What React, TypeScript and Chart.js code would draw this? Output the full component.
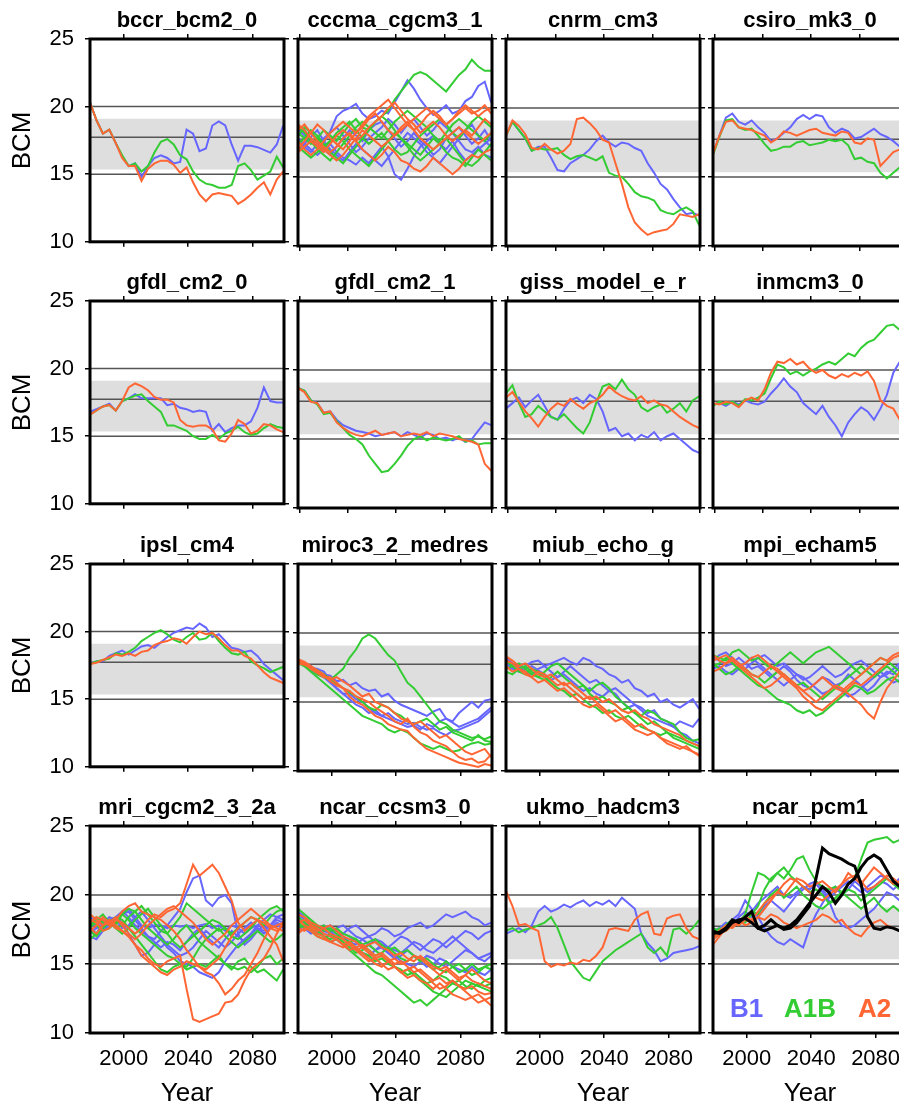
import React, { useEffect, useRef } from "react";
import { Chart, registerables } from "chart.js";

Chart.register(...registerables);

// ---------- shared axis / reference data ----------
const YEARS = [1979, 1983, 1987, 1991, 1995, 1999, 2003, 2007, 2011, 2015, 2019, 2023, 2027, 2031, 2035, 2039, 2043, 2047, 2051, 2055, 2059, 2063, 2067, 2071, 2075, 2079, 2083, 2087, 2091, 2095, 2099];
const X_MIN = 1979;
const X_MAX = 2099.5;
const Y_MIN = 10;
const Y_MAX = 25;
const Y_TICKS = [10, 15, 20, 25];
const X_TICKS_LABELED = [2000, 2040, 2080];
const X_TICKS_INNER = [1980, 2010, 2040, 2070, 2099.5];
const REF_LOW = 15.35;
const REF_HIGH = 19.1;
const REF_LINES = [15, 17.73, 20];
const LEGEND_LABELS = ["B1", "A1B", "A2"];

// ---------- series values (BCM) ----------
const BCCR_B1 = [20.3, 19.0, 18.0, 18.3, 17.3, 16.3, 15.6, 15.8, 14.8, 15.6, 16.2, 16.4, 16.2, 15.8, 15.9, 18.3, 18.0, 16.7, 16.9, 18.6, 18.9, 18.6, 17.2, 16.0, 17.1, 17.1, 17.0, 16.8, 16.6, 17.2, 18.6];
const BCCR_A1B = [20.3, 19.0, 18.0, 18.3, 17.3, 16.4, 15.6, 15.8, 15.2, 15.6, 16.6, 17.4, 17.6, 17.2, 16.4, 16.1, 15.2, 14.6, 14.3, 14.2, 14.0, 14.0, 14.2, 15.6, 15.8, 15.3, 14.6, 14.9, 15.2, 16.3, 15.5];
const BCCR_A2 = [20.3, 19.0, 18.0, 18.3, 17.3, 16.2, 15.6, 15.6, 14.5, 15.4, 15.8, 16.0, 16.0, 15.7, 15.1, 15.5, 14.4, 13.5, 13.0, 13.5, 13.6, 13.5, 13.4, 12.8, 13.1, 13.5, 14.0, 14.4, 13.5, 14.6, 15.2];

const CCCMA_B1 = [
  [18.5, 18.0, 17.6, 17.2, 17.5, 18.3, 19.4, 19.8, 20.0, 20.3, 19.6, 19.2, 19.4, 19.8, 19.6, 20.4, 21.2, 22.0, 21.4, 20.6, 20.0, 19.5, 19.8, 20.2, 19.6, 19.8, 20.5, 20.8, 21.6, 21.9, 20.4],
  [17.8, 17.4, 17.0, 16.6, 17.0, 17.4, 16.8, 16.4, 16.2, 15.9, 16.4, 16.0, 16.6, 17.2, 16.5, 15.2, 14.8, 15.6, 16.5, 17.2, 17.6, 18.0, 17.4, 17.0, 17.6, 16.8, 16.2, 16.6, 17.0, 17.4, 17.8],
  [18.0, 18.4, 17.8, 17.4, 17.0, 16.6, 17.2, 17.8, 18.4, 18.0, 17.6, 18.4, 18.8, 19.0, 18.4, 17.8, 17.2, 17.6, 18.2, 17.6, 17.2, 16.6, 17.0, 17.8, 18.2, 18.6, 18.0, 17.4, 17.8, 18.4, 17.6],
  [17.6, 17.2, 16.8, 17.4, 17.8, 18.2, 18.6, 18.0, 17.4, 16.8, 17.2, 17.8, 18.2, 18.6, 19.2, 18.8, 18.2, 18.8, 19.2, 18.6, 18.0, 18.4, 19.0, 18.6, 18.2, 17.6, 17.0, 16.8, 17.2, 16.6, 16.4],
  [17.0, 17.4, 17.9, 18.4, 17.6, 17.0, 16.6, 16.2, 16.8, 17.4, 17.0, 16.6, 16.2, 15.8, 16.4, 17.0, 17.6, 18.2, 17.8, 17.4, 16.8, 16.4, 16.0, 16.6, 17.2, 17.8, 18.4, 18.8, 18.0, 17.6, 17.2],
];
const CCCMA_A1B = [
  [18.2, 17.8, 17.4, 17.8, 18.4, 18.0, 17.6, 18.2, 18.8, 19.2, 18.6, 18.4, 19.0, 19.4, 19.8, 20.6, 21.2, 21.8, 22.4, 22.6, 22.4, 22.0, 21.6, 21.2, 21.8, 22.4, 22.8, 23.5, 23.0, 22.7, 22.7],
  [17.4, 17.8, 18.4, 18.0, 17.4, 16.8, 16.4, 16.0, 16.6, 17.2, 17.8, 18.4, 19.0, 19.4, 19.0, 18.4, 17.8, 17.4, 17.0, 16.6, 17.2, 17.8, 17.4, 16.8, 16.4, 16.2, 15.8, 16.4, 17.0, 16.6, 16.2],
  [18.6, 18.2, 17.6, 17.0, 16.6, 16.2, 16.8, 17.4, 18.0, 18.6, 19.0, 18.6, 18.2, 17.8, 18.4, 19.0, 19.4, 19.8, 19.4, 19.0, 18.6, 18.0, 17.6, 18.2, 18.8, 19.2, 18.8, 18.4, 18.0, 17.6, 18.2],
  [17.2, 16.8, 16.4, 16.8, 17.2, 17.6, 18.0, 17.6, 17.0, 16.6, 16.2, 15.8, 16.4, 17.0, 17.6, 18.2, 17.8, 17.2, 16.6, 16.2, 16.6, 17.0, 17.4, 17.8, 17.2, 16.6, 16.0, 15.8, 16.2, 16.8, 17.4],
  [18.0, 18.6, 18.2, 17.8, 17.2, 17.6, 18.2, 18.6, 19.0, 18.4, 17.8, 17.4, 17.8, 18.2, 17.6, 17.0, 16.6, 16.8, 17.4, 18.0, 18.4, 18.8, 19.2, 18.8, 18.2, 17.8, 18.4, 19.0, 19.4, 19.0, 18.6],
];
const CCCMA_A2 = [
  [17.0, 17.6, 18.2, 18.8, 18.4, 17.8, 17.4, 17.0, 17.6, 18.2, 18.8, 19.4, 19.8, 20.2, 20.6, 20.0, 19.4, 18.8, 18.4, 18.8, 19.4, 19.8, 19.4, 18.8, 19.2, 19.6, 20.0, 19.6, 19.8, 20.2, 19.6],
  [18.4, 18.8, 18.2, 17.6, 17.2, 16.8, 17.2, 17.8, 18.2, 17.6, 17.0, 16.6, 16.2, 16.6, 17.2, 16.8, 16.2, 16.0, 15.6, 15.4, 15.8, 16.4, 16.0, 15.6, 15.2, 15.6, 16.2, 16.6, 16.4, 16.8, 17.0],
  [17.6, 17.0, 16.6, 17.0, 17.6, 18.2, 18.6, 19.0, 18.6, 18.2, 18.6, 19.2, 19.6, 19.0, 18.4, 18.0, 18.4, 18.8, 19.2, 19.6, 20.0, 19.6, 19.2, 18.8, 19.2, 19.8, 20.2, 19.8, 19.4, 19.8, 20.0],
  [18.8, 18.4, 17.8, 17.4, 17.0, 16.6, 16.2, 16.6, 17.2, 17.8, 18.4, 18.0, 17.6, 17.2, 17.6, 18.0, 18.6, 19.0, 18.4, 17.8, 17.4, 17.0, 17.4, 17.8, 18.2, 18.6, 18.2, 17.8, 17.4, 17.8, 18.2],
  [16.8, 17.2, 17.6, 17.2, 16.8, 17.4, 18.0, 18.4, 18.0, 17.6, 18.0, 18.6, 19.0, 19.4, 20.0, 20.4, 19.8, 19.2, 18.8, 18.2, 18.6, 19.0, 18.6, 18.0, 17.6, 18.0, 18.4, 18.0, 18.6, 19.2, 18.8],
];

const CNRM_B1 = [18.0, 19.0, 18.4, 17.8, 16.9, 17.2, 17.2, 16.4, 15.5, 15.4, 16.0, 16.3, 16.6, 17.0, 17.6, 18.0, 17.5, 17.2, 17.5, 17.4, 17.1, 16.9, 16.0, 15.3, 14.5, 14.1, 13.4, 12.8, 12.3, 12.4, 12.2];
const CNRM_A1B = [18.0, 19.0, 18.4, 17.8, 16.9, 17.1, 17.0, 17.0, 17.1, 16.6, 16.3, 16.5, 16.6, 16.4, 16.2, 16.5, 15.3, 15.1, 15.0, 14.5, 13.9, 13.6, 13.5, 13.3, 12.6, 12.4, 12.3, 12.6, 12.8, 12.5, 11.5];
const CNRM_A2 = [18.0, 19.1, 18.7, 18.1, 17.1, 17.0, 17.4, 17.0, 16.7, 16.9, 17.4, 19.2, 19.3, 18.9, 18.4, 17.7, 17.5, 16.0, 14.5, 12.8, 11.7, 11.2, 10.8, 11.0, 11.1, 11.2, 11.6, 12.3, 12.2, 12.1, 12.3];

const CSIRO_B1 = [16.7, 18.0, 19.3, 19.6, 19.0, 18.8, 19.1, 18.6, 18.2, 17.6, 17.8, 18.2, 18.6, 19.2, 19.5, 19.2, 19.5, 19.4, 18.6, 18.2, 18.5, 18.3, 17.8, 17.9, 18.2, 18.5, 18.1, 17.9, 17.6, 17.2, 17.4];
const CSIRO_A1B = [16.6, 17.9, 19.1, 19.2, 18.6, 18.4, 18.5, 18.0, 17.4, 16.9, 17.0, 17.2, 17.2, 17.5, 17.6, 17.3, 17.4, 17.5, 17.7, 17.6, 17.7, 17.3, 16.3, 16.4, 16.1, 16.0, 15.3, 14.9, 15.3, 15.7, 15.6];
const CSIRO_A2 = [16.7, 18.0, 19.0, 19.1, 18.6, 18.5, 18.4, 18.2, 18.0, 17.5, 17.8, 18.3, 18.2, 18.0, 18.2, 18.4, 18.5, 18.2, 18.1, 18.0, 18.3, 18.2, 17.5, 17.4, 17.8, 17.7, 15.8, 16.3, 16.8, 17.0, 17.0];

const GFDL0_B1 = [16.8, 17.0, 17.2, 17.4, 16.9, 17.6, 17.8, 18.1, 17.8, 17.8, 17.8, 17.8, 17.3, 17.4, 17.1, 17.0, 16.8, 16.9, 16.8, 15.4, 15.9, 15.3, 15.6, 15.8, 15.8, 16.1, 17.1, 18.6, 17.6, 17.5, 17.5];
const GFDL0_A1B = [16.6, 16.9, 17.2, 17.3, 16.9, 17.6, 17.8, 18.0, 18.1, 17.6, 17.2, 16.8, 15.8, 15.8, 15.6, 15.4, 15.0, 14.8, 14.8, 15.1, 14.8, 15.2, 15.4, 15.7, 15.3, 15.1, 15.2, 15.6, 15.9, 15.7, 15.6];
const GFDL0_A2 = [16.6, 16.9, 17.2, 17.3, 16.9, 17.6, 18.6, 18.9, 18.7, 18.4, 17.9, 17.7, 17.7, 17.5, 16.2, 15.8, 15.7, 15.8, 15.8, 15.5, 14.7, 14.6, 15.2, 16.2, 15.9, 15.2, 15.4, 15.9, 15.8, 15.5, 15.3];

const GFDL1_B1 = [18.7, 18.5, 17.8, 17.6, 16.9, 17.0, 16.4, 16.0, 15.8, 15.6, 15.5, 15.4, 15.2, 15.3, 15.4, 15.5, 15.2, 15.5, 15.3, 15.1, 15.4, 15.3, 15.0, 15.1, 14.9, 15.1, 14.8, 15.0, 15.6, 16.2, 16.0];
const GFDL1_A1B = [18.7, 18.5, 17.8, 17.5, 16.8, 16.9, 16.3, 15.8, 15.3, 15.0, 14.6, 13.8, 13.2, 12.6, 12.7, 13.2, 13.8, 14.5, 15.0, 15.2, 14.9, 15.1, 15.0, 14.9, 15.0, 15.2, 14.8, 14.9, 14.6, 14.7, 14.7];
const GFDL1_A2 = [18.7, 18.4, 17.7, 17.6, 16.9, 17.0, 16.2, 15.8, 15.5, 15.3, 15.2, 15.4, 15.6, 15.3, 15.4, 15.5, 15.2, 15.3, 15.4, 15.3, 15.5, 15.2, 15.4, 15.3, 15.2, 15.0, 14.9, 14.8, 14.6, 13.2, 12.7];

const GISS_B1 = [17.2, 17.6, 18.0, 17.3, 17.8, 18.2, 17.4, 16.6, 16.4, 17.2, 17.8, 18.0, 17.6, 18.2, 17.9, 17.0, 15.6, 15.8, 15.2, 15.4, 14.9, 15.3, 15.1, 15.5, 14.9, 15.2, 15.4, 15.0, 14.6, 14.2, 14.0];
const GISS_A1B = [18.3, 18.9, 17.6, 16.6, 16.8, 17.4, 17.0, 16.6, 16.4, 16.8, 16.3, 15.8, 15.4, 16.2, 17.6, 18.8, 19.0, 18.6, 19.3, 18.6, 18.2, 17.3, 17.0, 17.3, 17.5, 16.9, 17.2, 17.6, 17.0, 17.8, 18.1];
const GISS_A2 = [18.0, 18.4, 17.7, 17.0, 16.5, 15.9, 16.6, 17.2, 17.6, 17.4, 17.9, 17.5, 17.2, 17.6, 17.8, 18.2, 18.8, 18.4, 18.1, 17.9, 17.8, 18.1, 17.6, 17.8, 17.5, 17.4, 17.0, 16.6, 16.3, 16.0, 15.8];

const INM_B1 = [17.5, 17.6, 17.4, 17.7, 17.5, 17.8, 17.6, 17.5, 17.7, 18.3, 18.8, 19.4, 18.8, 18.4, 17.6, 17.2, 16.8, 17.4, 16.6, 16.0, 15.2, 16.2, 16.8, 17.3, 17.0, 16.4, 17.2, 18.2, 19.8, 20.6, 20.8];
const INM_A1B = [17.4, 17.7, 17.5, 17.7, 17.4, 17.9, 17.8, 18.0, 18.3, 19.4, 20.4, 20.2, 19.7, 19.9, 19.6, 19.9, 20.1, 20.4, 20.6, 20.4, 20.8, 21.2, 21.0, 21.6, 22.0, 22.2, 22.7, 23.2, 23.3, 22.9, 22.6];
const INM_A2 = [17.6, 17.5, 17.7, 17.6, 17.3, 17.8, 18.0, 17.8, 18.6, 19.8, 20.6, 20.5, 20.8, 20.4, 20.6, 20.1, 19.8, 20.0, 19.6, 19.4, 19.7, 19.5, 19.8, 19.6, 19.9, 19.2, 17.8, 17.4, 17.2, 16.4, 16.2];

const IPSL_B1 = [17.6, 17.8, 17.8, 18.2, 18.4, 18.6, 18.3, 18.6, 18.9, 19.0, 18.8, 19.2, 19.6, 19.9, 20.1, 20.3, 20.2, 20.6, 20.3, 19.6, 19.8, 19.3, 18.8, 18.7, 18.5, 18.6, 18.2, 17.6, 17.2, 16.8, 16.4];
const IPSL_A1B = [17.6, 17.8, 17.9, 18.0, 18.4, 18.3, 18.5, 18.8, 19.3, 19.6, 19.9, 20.1, 19.8, 19.4, 19.2, 19.6, 19.9, 19.4, 19.5, 19.9, 19.3, 18.8, 18.4, 18.3, 18.5, 17.8, 17.5, 17.3, 17.0, 17.2, 17.4];
const IPSL_A2 = [17.6, 17.7, 17.9, 18.1, 18.3, 18.2, 18.4, 18.2, 18.5, 18.6, 19.0, 19.2, 19.3, 19.5, 19.4, 19.1, 19.6, 20.0, 19.8, 19.9, 19.5, 19.0, 18.6, 18.6, 18.2, 18.0, 17.5, 17.0, 16.6, 16.4, 16.2];

const MIROC_B1 = [
  [18.0, 17.8, 17.6, 17.2, 17.0, 16.9, 16.5, 16.6, 16.2, 16.4, 16.0, 15.8, 15.9, 15.4, 15.6, 15.1, 14.8, 14.6, 14.4, 14.2, 14.0, 14.3, 14.5, 13.8, 13.6, 14.2, 14.6, 15.0, 14.6, 15.1, 15.2],
  [17.9, 17.6, 17.5, 17.4, 17.2, 16.6, 16.0, 15.6, 15.2, 14.8, 14.6, 14.2, 14.4, 14.0, 13.8, 13.6, 13.4, 13.2, 13.3, 13.0, 13.4, 13.2, 13.6, 13.8, 13.5, 13.2, 13.4, 13.6, 13.8, 14.2, 14.6],
  [18.1, 17.7, 17.3, 17.0, 16.8, 16.4, 16.0, 15.6, 15.6, 15.2, 15.0, 14.6, 14.2, 14.0, 14.2, 13.8, 13.6, 13.4, 13.5, 13.2, 13.0, 13.1, 12.8, 12.6, 12.9, 13.0, 13.2, 13.4, 13.6, 14.0, 14.4],
];
const MIROC_A1B = [
  [17.8, 17.6, 17.4, 17.0, 16.8, 16.6, 17.0, 17.4, 18.2, 18.8, 19.6, 19.9, 19.6, 19.0, 18.4, 18.0, 17.2, 16.4, 16.0, 15.4, 14.8, 14.2, 13.6, 13.4, 13.0, 12.8, 12.6, 12.4, 12.5, 12.3, 12.5],
  [18.0, 17.6, 17.2, 16.8, 16.4, 16.0, 15.6, 15.2, 14.8, 14.4, 14.0, 13.8, 13.6, 13.4, 13.0, 12.8, 13.0, 12.8, 12.4, 12.0, 11.8, 11.6, 11.8, 11.6, 11.4, 11.5, 11.8, 12.0, 12.1, 11.9, 12.0],
  [17.9, 17.7, 17.5, 17.3, 17.0, 16.7, 16.3, 16.0, 15.7, 15.4, 15.0, 14.6, 14.4, 14.8, 14.6, 14.2, 14.0, 13.6, 13.4, 13.6, 13.8, 13.4, 13.0, 13.2, 12.8, 12.6, 12.4, 12.2, 12.6, 12.2, 12.1],
];
const MIROC_A2 = [
  [18.1, 17.9, 17.6, 17.3, 17.0, 16.5, 16.2, 16.0, 15.8, 15.4, 15.2, 15.0, 14.6, 14.3, 14.0, 13.6, 13.4, 13.8, 13.2, 12.8, 12.6, 12.2, 12.0, 11.8, 11.4, 11.0, 10.8, 10.9, 10.6, 10.7, 11.2],
  [18.0, 17.8, 17.4, 17.1, 16.8, 16.8, 16.4, 16.0, 15.4, 15.0, 14.8, 14.4, 14.0, 13.8, 13.4, 13.2, 13.0, 12.9, 12.4, 12.0, 11.6, 11.4, 11.2, 11.0, 10.8, 10.6, 10.5, 10.4, 10.3, 10.5, 10.4],
  [17.8, 17.7, 17.5, 17.2, 16.9, 16.6, 16.8, 16.5, 16.2, 15.8, 15.4, 15.6, 15.0, 14.8, 14.6, 14.2, 13.8, 13.6, 13.4, 13.6, 13.2, 12.8, 12.4, 12.6, 12.2, 11.8, 11.4, 11.2, 11.4, 11.6, 11.0],
];

const MIUB_B1 = [
  [18.2, 17.8, 17.4, 17.6, 17.9, 18.0, 17.6, 17.8, 18.0, 18.2, 17.9, 17.7, 18.2, 18.0, 17.6, 17.4, 17.0, 16.8, 16.4, 16.6, 16.0, 15.8, 15.4, 15.6, 15.0, 15.2, 14.8, 14.6, 14.9, 15.2, 14.5],
  [17.6, 17.4, 17.2, 17.4, 17.6, 17.3, 17.0, 16.6, 16.8, 17.2, 17.6, 17.2, 16.8, 16.4, 16.6, 16.2, 15.8, 15.6, 15.0, 14.6, 14.8, 14.4, 14.0, 13.8, 13.6, 13.4, 13.2, 13.6, 13.4, 13.2, 13.8],
  [17.8, 17.5, 17.6, 17.2, 17.0, 17.4, 17.6, 17.2, 16.8, 17.0, 16.6, 16.2, 15.8, 16.0, 15.6, 15.4, 15.8, 16.0, 15.6, 15.2, 14.8, 14.6, 14.2, 14.4, 13.8, 13.6, 13.2, 12.8, 12.6, 12.2, 12.0],
];
const MIUB_A1B = [
  [17.4, 17.6, 17.8, 17.4, 17.0, 16.8, 17.2, 17.6, 17.8, 17.4, 17.0, 16.6, 16.2, 15.8, 16.2, 16.4, 16.0, 15.4, 15.0, 14.6, 14.2, 13.8, 13.4, 13.6, 13.2, 12.8, 12.6, 12.4, 12.2, 12.0, 11.8],
  [18.0, 17.6, 17.2, 17.0, 17.4, 17.2, 16.8, 16.4, 16.0, 15.8, 15.4, 15.6, 15.2, 14.8, 14.6, 14.2, 14.4, 14.0, 13.8, 14.0, 13.6, 13.2, 13.0, 12.8, 12.6, 12.8, 12.4, 12.2, 12.0, 11.8, 11.6],
  [17.2, 17.0, 17.4, 17.6, 17.2, 16.8, 16.6, 16.8, 17.2, 16.8, 16.4, 16.0, 16.2, 15.6, 15.2, 15.4, 15.0, 14.8, 14.4, 14.6, 14.2, 14.0, 14.4, 14.2, 13.8, 13.6, 13.4, 12.8, 12.4, 12.2, 12.3],
];
const MIUB_A2 = [
  [18.0, 17.8, 17.4, 17.0, 16.8, 17.2, 17.0, 16.6, 16.2, 16.4, 16.0, 15.6, 15.2, 15.4, 15.0, 14.6, 14.2, 14.4, 14.0, 13.6, 13.2, 13.4, 13.0, 12.8, 12.4, 12.2, 12.0, 11.8, 11.6, 11.4, 11.1],
  [17.6, 17.2, 17.4, 17.2, 16.8, 16.4, 16.6, 16.2, 15.8, 16.0, 15.6, 15.2, 14.8, 14.6, 14.8, 14.4, 14.0, 13.6, 13.8, 13.4, 13.0, 12.8, 12.6, 12.8, 12.4, 12.0, 11.8, 11.6, 11.8, 11.4, 11.2],
  [18.3, 18.0, 17.6, 17.8, 17.4, 17.0, 16.8, 17.0, 16.6, 16.2, 16.4, 16.0, 15.6, 15.2, 15.4, 15.0, 15.2, 14.8, 14.4, 14.2, 14.4, 14.0, 13.8, 13.4, 13.2, 13.0, 12.8, 12.6, 12.2, 12.0, 11.8],
];

const MPI_B1 = [
  [18.2, 18.0, 17.6, 17.8, 18.2, 17.8, 17.4, 17.6, 17.2, 16.8, 17.2, 17.6, 17.2, 16.6, 16.2, 16.0, 16.4, 16.8, 16.6, 16.2, 16.4, 17.0, 16.6, 16.2, 15.8, 16.2, 16.8, 17.2, 17.0, 17.6, 17.2],
  [17.4, 17.6, 17.2, 17.0, 17.4, 17.8, 18.2, 17.8, 17.4, 17.0, 16.6, 16.2, 16.6, 17.0, 16.8, 16.4, 16.0, 15.6, 15.8, 16.2, 15.8, 15.4, 15.6, 16.0, 16.4, 16.8, 17.2, 16.8, 16.4, 16.6, 16.8],
  [18.0, 18.4, 18.6, 18.2, 17.8, 17.4, 17.8, 18.2, 18.4, 18.0, 17.6, 17.8, 17.4, 17.0, 16.6, 16.8, 17.2, 17.6, 17.2, 16.8, 17.0, 17.4, 17.8, 18.0, 17.6, 17.2, 16.8, 17.0, 17.4, 17.8, 18.0],
];
const MPI_A1B = [
  [17.6, 17.8, 18.2, 17.8, 17.4, 17.0, 16.6, 16.2, 16.0, 15.6, 15.2, 15.0, 14.8, 14.4, 14.2, 14.4, 14.0, 14.2, 14.6, 15.0, 15.4, 15.8, 16.2, 16.0, 15.6, 15.8, 16.2, 16.6, 16.8, 16.4, 16.6],
  [18.4, 18.2, 18.0, 18.6, 18.8, 18.4, 18.0, 18.2, 17.8, 17.4, 17.8, 18.2, 18.6, 18.2, 17.8, 18.2, 18.6, 18.8, 19.0, 18.6, 18.2, 17.8, 17.4, 17.0, 17.4, 17.8, 18.2, 18.0, 17.6, 17.2, 17.4],
  [17.8, 17.4, 17.0, 17.2, 17.6, 17.4, 17.0, 16.8, 16.4, 16.8, 17.2, 17.0, 16.6, 16.2, 16.4, 16.0, 15.6, 15.2, 15.6, 16.0, 16.4, 16.8, 17.2, 17.6, 17.2, 16.8, 17.2, 17.6, 17.2, 16.8, 16.4],
];
const MPI_A2 = [
  [18.4, 18.0, 17.8, 18.2, 17.8, 17.4, 17.0, 16.8, 17.2, 17.6, 17.4, 17.0, 16.6, 16.2, 15.8, 15.4, 15.0, 15.4, 15.8, 16.2, 16.0, 15.6, 15.2, 14.8, 14.2, 13.8, 15.0, 16.0, 16.6, 17.2, 17.6],
  [17.2, 17.4, 17.8, 18.0, 17.6, 17.2, 16.8, 16.4, 16.0, 16.2, 16.6, 17.0, 16.6, 16.2, 15.8, 16.0, 16.4, 16.8, 16.4, 16.0, 15.8, 16.2, 16.6, 17.0, 17.4, 17.8, 18.2, 18.0, 18.4, 18.6, 18.8],
  [18.0, 18.2, 18.4, 18.0, 17.6, 17.8, 18.2, 18.4, 18.0, 17.6, 17.2, 16.8, 16.4, 16.0, 15.4, 15.0, 14.6, 14.4, 14.8, 15.2, 15.6, 16.0, 16.4, 16.2, 16.6, 17.0, 17.4, 17.8, 18.2, 18.4, 18.8],
];

const MRI_B1 = [
  [17.6, 17.2, 18.0, 18.4, 18.2, 18.6, 18.8, 18.2, 17.6, 17.0, 16.8, 17.4, 17.8, 18.4, 19.0, 20.2, 21.2, 21.4, 19.6, 19.2, 19.8, 20.0, 19.4, 17.2, 16.4, 16.8, 17.4, 17.8, 17.6, 18.0, 17.8],
  [18.0, 17.6, 17.8, 18.2, 18.4, 18.8, 19.0, 18.4, 17.8, 17.6, 17.8, 17.8, 17.6, 17.8, 17.7, 17.8, 17.6, 17.8, 17.9, 17.6, 17.8, 17.4, 17.8, 17.6, 17.2, 17.6, 17.8, 17.6, 17.8, 18.2, 18.0],
  [17.2, 17.6, 18.2, 17.8, 18.4, 18.0, 17.2, 16.4, 15.6, 15.8, 16.4, 16.8, 16.2, 15.8, 15.2, 15.0, 14.8, 14.4, 14.2, 14.0, 14.4, 15.2, 15.8, 16.4, 16.8, 17.2, 17.6, 17.4, 17.8, 18.4, 18.2],
  [18.4, 18.0, 17.4, 17.8, 18.2, 18.8, 18.4, 17.8, 17.4, 17.0, 16.6, 16.2, 16.6, 16.4, 16.0, 16.6, 17.2, 17.6, 17.0, 16.6, 16.2, 16.8, 17.4, 17.0, 16.6, 17.2, 17.8, 18.2, 18.6, 18.4, 18.6],
  [17.0, 16.8, 17.4, 18.0, 18.2, 17.6, 17.8, 18.4, 18.8, 18.2, 17.6, 17.0, 16.4, 16.0, 15.6, 15.8, 16.2, 16.8, 17.4, 17.0, 16.6, 16.2, 16.6, 17.2, 17.6, 18.0, 17.6, 17.2, 17.6, 17.8, 17.6],
];
const MRI_A1B = [
  [17.8, 18.4, 18.0, 18.2, 17.8, 18.6, 19.0, 18.8, 19.2, 18.6, 18.0, 17.4, 17.2, 17.8, 18.4, 19.4, 19.0, 18.6, 18.2, 17.8, 17.4, 17.6, 17.0, 16.8, 17.2, 17.6, 18.2, 18.6, 19.0, 19.2, 18.8],
  [17.4, 17.0, 17.6, 18.0, 18.4, 18.2, 17.6, 17.0, 16.4, 15.8, 15.2, 14.6, 14.4, 14.8, 15.0, 14.6, 14.8, 15.0, 14.8, 15.2, 15.6, 15.0, 14.6, 15.2, 15.4, 14.8, 14.4, 14.6, 14.2, 13.8, 14.6],
  [18.2, 17.8, 17.4, 17.6, 18.0, 18.6, 18.2, 17.6, 17.2, 16.8, 16.4, 16.0, 15.6, 15.4, 15.0, 14.8, 15.4, 16.2, 16.8, 17.2, 17.6, 17.0, 16.6, 16.2, 16.6, 17.0, 17.4, 17.0, 16.6, 16.8, 17.2],
  [16.8, 17.2, 17.8, 18.2, 17.6, 17.8, 18.4, 18.8, 18.2, 17.6, 17.2, 16.8, 16.4, 16.8, 17.4, 17.8, 17.2, 16.6, 16.2, 15.8, 15.4, 15.0, 14.8, 14.6, 14.8, 14.4, 14.8, 15.4, 15.6, 15.0, 15.4],
  [17.6, 18.2, 18.6, 18.0, 17.6, 17.2, 17.6, 18.2, 18.6, 19.0, 18.4, 17.8, 17.2, 16.6, 16.2, 16.6, 17.0, 17.4, 17.8, 18.2, 18.0, 17.6, 17.2, 17.6, 18.0, 18.4, 18.2, 17.8, 18.4, 18.8, 19.0],
];
const MRI_A2 = [
  [18.0, 18.4, 18.2, 17.8, 18.2, 18.0, 17.6, 17.2, 17.6, 18.2, 18.6, 18.4, 18.8, 19.0, 19.4, 20.8, 22.2, 21.4, 21.8, 22.2, 21.6, 20.6, 19.6, 18.0, 17.4, 17.8, 18.2, 18.0, 17.6, 17.8, 18.0],
  [17.6, 17.2, 17.8, 18.2, 17.8, 17.4, 17.0, 16.4, 16.0, 15.4, 15.0, 14.8, 15.2, 15.4, 15.6, 13.2, 11.0, 10.8, 11.0, 11.2, 11.4, 12.2, 12.3, 12.8, 13.8, 14.6, 15.0, 15.4, 16.2, 17.2, 18.0],
  [18.2, 18.0, 17.4, 17.6, 18.2, 18.8, 19.2, 19.4, 18.8, 18.6, 18.4, 18.2, 17.8, 17.4, 16.8, 16.0, 15.4, 14.8, 14.4, 14.2, 13.6, 12.8, 13.2, 13.8, 14.2, 15.0, 15.8, 16.8, 17.6, 17.4, 17.8],
  [17.4, 17.8, 18.4, 18.0, 17.6, 17.4, 17.0, 16.4, 15.6, 15.2, 14.8, 14.4, 14.2, 14.6, 14.8, 15.2, 15.0, 14.8, 14.6, 15.0, 15.4, 16.2, 17.0, 17.6, 18.0, 18.4, 18.2, 17.6, 17.0, 16.4, 15.2],
  [18.6, 18.2, 17.8, 18.0, 18.4, 17.8, 17.2, 16.8, 17.2, 17.8, 18.2, 18.6, 19.0, 19.2, 18.8, 18.4, 18.0, 17.4, 16.8, 16.4, 16.8, 17.2, 17.8, 18.2, 18.6, 19.0, 18.6, 18.2, 17.8, 17.6, 17.4],
];

const CCSM_B1 = [
  [18.6, 18.2, 17.8, 17.6, 17.8, 17.4, 17.0, 17.2, 17.6, 17.8, 17.4, 17.0, 17.2, 17.6, 17.4, 17.0, 17.2, 17.6, 17.8, 18.0, 17.6, 17.8, 18.2, 18.6, 18.4, 18.6, 18.8, 18.4, 18.2, 17.8, 18.0],
  [17.8, 17.6, 17.2, 17.4, 17.0, 16.6, 16.8, 16.4, 16.0, 16.2, 15.8, 15.6, 16.0, 16.4, 16.2, 16.0, 15.8, 16.2, 16.6, 16.4, 16.0, 15.8, 16.2, 16.6, 17.0, 16.6, 16.2, 15.8, 15.4, 15.6, 15.8],
  [18.2, 18.0, 17.6, 17.2, 17.4, 17.8, 17.4, 17.0, 16.6, 16.4, 16.8, 17.0, 16.6, 16.2, 15.8, 15.6, 15.2, 15.0, 14.8, 15.2, 15.6, 15.4, 15.0, 14.8, 15.2, 15.6, 16.0, 15.8, 15.4, 15.2, 15.6],
  [17.4, 17.8, 18.0, 17.6, 17.2, 17.0, 16.8, 17.2, 17.0, 16.6, 16.2, 16.4, 16.8, 16.6, 16.2, 16.6, 17.0, 16.8, 16.4, 16.0, 16.4, 16.8, 16.6, 16.2, 16.6, 17.0, 17.4, 17.2, 16.8, 17.2, 17.4],
  [18.8, 18.4, 18.0, 17.8, 17.4, 17.2, 17.6, 17.8, 17.4, 17.0, 16.8, 16.4, 16.0, 16.2, 15.8, 15.4, 15.6, 16.0, 15.6, 15.2, 14.8, 15.0, 15.4, 15.2, 14.8, 14.6, 14.4, 14.8, 14.4, 14.2, 14.6],
];
const CCSM_A1B = [
  [18.4, 18.0, 17.6, 17.2, 17.0, 16.6, 16.8, 16.4, 16.0, 15.6, 15.2, 14.8, 14.4, 14.2, 13.8, 13.4, 13.0, 12.6, 12.2, 12.4, 12.0, 12.4, 12.8, 12.6, 13.0, 13.4, 13.2, 13.6, 13.4, 13.2, 13.0],
  [17.6, 17.8, 17.4, 17.0, 16.8, 17.2, 16.8, 16.4, 16.6, 16.2, 15.8, 15.6, 15.2, 15.4, 15.0, 14.8, 14.6, 14.2, 14.4, 14.0, 13.6, 13.8, 14.2, 14.0, 13.6, 13.4, 13.8, 13.6, 13.4, 13.8, 14.0],
  [19.0, 18.6, 18.2, 17.8, 17.4, 17.6, 17.2, 16.8, 16.6, 16.8, 16.4, 16.0, 15.6, 15.8, 16.2, 15.8, 15.4, 15.2, 15.6, 15.4, 15.0, 14.6, 14.8, 15.2, 14.8, 14.4, 14.6, 15.0, 14.6, 14.8, 15.0],
  [18.0, 17.6, 17.8, 17.4, 17.0, 16.8, 17.0, 16.6, 16.2, 15.8, 16.0, 16.4, 16.0, 15.6, 15.2, 14.8, 14.4, 14.6, 14.2, 13.8, 13.4, 13.0, 12.8, 13.2, 13.6, 13.8, 13.4, 13.2, 13.6, 13.4, 13.6],
  [17.8, 18.2, 18.0, 17.6, 17.8, 17.4, 17.6, 17.2, 17.0, 16.8, 16.4, 16.6, 16.8, 16.4, 16.0, 16.2, 15.8, 16.0, 15.6, 15.2, 15.4, 15.0, 14.6, 14.4, 14.8, 15.0, 14.6, 14.2, 14.4, 14.8, 14.6],
];
const CCSM_A2 = [
  [18.2, 17.8, 17.6, 17.2, 17.0, 16.6, 16.4, 16.2, 16.4, 16.0, 15.6, 15.2, 15.4, 15.0, 14.6, 14.8, 14.4, 14.0, 14.2, 13.8, 13.6, 13.2, 13.6, 13.2, 12.8, 12.6, 12.4, 12.6, 12.2, 12.4, 12.6],
  [17.6, 17.4, 17.8, 17.6, 17.2, 17.0, 16.8, 16.4, 16.0, 16.2, 16.4, 16.0, 15.6, 15.8, 15.4, 15.0, 15.2, 14.8, 14.4, 14.6, 14.2, 13.8, 14.0, 13.6, 13.8, 13.4, 13.2, 13.4, 13.0, 12.8, 12.9],
  [18.6, 18.4, 18.0, 17.8, 17.6, 17.8, 17.4, 17.0, 16.8, 16.6, 16.2, 16.4, 16.6, 16.2, 16.0, 15.6, 15.8, 15.4, 15.2, 15.6, 15.2, 14.8, 14.6, 14.8, 14.4, 14.0, 14.2, 13.8, 13.6, 13.4, 13.2],
  [17.2, 17.6, 17.4, 17.0, 16.8, 16.6, 16.8, 16.4, 16.6, 16.2, 15.8, 15.4, 15.0, 14.8, 15.2, 14.8, 14.4, 14.6, 14.8, 14.4, 14.0, 13.6, 13.2, 13.4, 13.8, 13.4, 13.0, 12.6, 12.8, 12.4, 12.0],
  [18.0, 18.2, 17.8, 17.4, 17.6, 17.2, 17.0, 16.8, 16.4, 16.0, 16.2, 15.8, 15.4, 15.6, 15.2, 15.4, 15.0, 15.2, 15.6, 15.4, 15.0, 14.6, 14.2, 14.6, 14.2, 13.8, 14.2, 14.6, 14.2, 13.8, 13.6],
];

const UKMO_B1 = [17.2, 17.4, 17.6, 17.3, 17.8, 18.8, 19.2, 18.8, 19.0, 19.3, 19.1, 19.4, 19.6, 19.2, 19.5, 19.3, 19.6, 19.2, 19.8, 19.4, 19.0, 17.2, 16.5, 16.0, 15.2, 15.4, 15.8, 15.9, 16.0, 16.1, 16.3];
const UKMO_A1B = [17.4, 17.6, 17.3, 17.5, 17.6, 17.8, 18.0, 18.4, 17.6, 16.4, 15.2, 14.6, 14.0, 13.8, 14.5, 15.2, 15.6, 16.0, 16.3, 16.6, 16.9, 17.2, 16.2, 15.8, 16.2, 15.6, 17.5, 17.6, 17.2, 17.6, 18.2];
const UKMO_A2 = [20.3, 19.2, 17.8, 17.9, 17.6, 17.4, 15.2, 14.8, 15.0, 14.9, 15.1, 15.0, 15.3, 15.2, 15.6, 16.2, 17.5, 17.6, 17.5, 17.4, 18.2, 18.6, 18.8, 17.2, 17.1, 18.3, 18.5, 18.6, 17.6, 17.0, 16.8];

const PCM_B1 = [
  [17.0, 17.3, 17.8, 18.2, 18.6, 19.6, 19.0, 18.4, 17.6, 17.0, 16.6, 16.4, 16.8, 16.5, 16.2, 17.6, 18.6, 19.4, 20.2, 20.6, 20.0, 20.4, 21.0, 20.6, 20.2, 20.6, 21.0, 20.8, 20.4, 20.8, 21.0],
  [16.8, 17.2, 17.6, 17.8, 18.2, 18.4, 18.8, 19.4, 19.8, 20.2, 20.6, 20.0, 19.8, 20.2, 20.6, 20.4, 20.8, 20.2, 19.6, 18.4, 17.8, 17.6, 17.8, 18.2, 18.6, 19.0, 19.6, 20.2, 20.0, 19.6, 19.4],
  [17.4, 17.6, 18.0, 17.8, 18.4, 18.8, 18.4, 18.6, 19.2, 19.6, 19.2, 18.8, 19.4, 20.0, 20.4, 20.8, 21.0, 20.4, 19.8, 20.2, 20.6, 21.0, 20.6, 20.2, 20.6, 21.0, 21.4, 21.2, 20.8, 21.2, 21.4],
];
const PCM_A1B = [
  [16.8, 17.2, 17.8, 18.2, 18.0, 18.6, 20.2, 21.6, 21.4, 21.0, 21.6, 21.2, 21.8, 22.6, 22.8, 21.8, 21.0, 20.6, 20.4, 20.6, 20.2, 20.8, 21.2, 22.6, 23.8, 24.0, 24.1, 24.2, 23.8, 24.0, 24.2],
  [17.2, 17.6, 17.4, 17.8, 18.2, 18.0, 18.6, 19.2, 20.4, 21.2, 21.6, 22.0, 21.4, 21.0, 20.6, 20.2, 20.4, 20.0, 19.4, 19.6, 20.0, 20.4, 20.2, 19.6, 20.0, 20.4, 20.8, 21.2, 20.8, 20.4, 20.0],
  [17.6, 17.4, 17.8, 18.2, 17.8, 18.4, 18.8, 18.6, 19.4, 20.0, 20.4, 19.8, 20.2, 20.6, 20.0, 19.6, 19.2, 19.0, 19.4, 19.8, 20.2, 19.8, 19.4, 19.0, 19.4, 19.8, 19.2, 18.8, 19.2, 18.8, 18.6],
];
const PCM_A2 = [
  [16.4, 17.0, 17.6, 18.0, 17.8, 18.2, 18.0, 18.4, 19.0, 19.6, 20.2, 20.0, 20.6, 21.2, 21.0, 20.6, 20.8, 21.0, 20.6, 20.2, 20.8, 21.2, 21.4, 21.0, 20.4, 20.6, 21.0, 21.4, 21.2, 20.8, 21.0],
  [16.8, 17.2, 17.4, 17.8, 18.2, 17.8, 18.0, 18.4, 18.2, 18.6, 18.4, 18.0, 17.8, 17.6, 17.8, 18.0, 18.2, 18.6, 18.4, 18.0, 18.2, 17.6, 17.2, 17.0, 17.6, 18.0, 18.2, 17.8, 17.6, 17.4, 17.6],
  [17.0, 17.4, 17.8, 17.6, 18.0, 18.4, 18.2, 18.8, 19.4, 19.8, 20.2, 20.8, 21.2, 21.0, 20.6, 20.2, 19.8, 19.6, 20.0, 20.4, 20.8, 21.6, 21.2, 20.8, 21.4, 22.0, 21.6, 21.2, 20.8, 21.0, 21.2],
];
const PCM_CTL = [
  [17.2, 17.3, 17.6, 18.2, 18.0, 18.4, 18.8, 17.6, 17.8, 18.2, 17.8, 17.5, 17.6, 18.0, 18.6, 19.2, 21.2, 23.4, 23.0, 22.8, 22.6, 22.3, 22.1, 20.8, 18.4, 17.6, 17.5, 17.7, 17.6, 17.4, 17.6],
  [17.4, 17.2, 17.5, 18.0, 18.2, 18.3, 18.0, 17.6, 17.4, 17.6, 17.8, 17.6, 17.8, 18.2, 18.8, 19.4, 20.0, 20.6, 20.2, 19.4, 20.0, 20.8, 21.2, 22.0, 22.6, 22.9, 22.6, 21.8, 21.0, 20.6, 20.2],
];

// ---------- panels ----------
type Scen = "B1" | "A1B" | "A2" | "CTL";
type Run = { scen: Scen; values: number[] };

const one = (b: number[], g: number[], o: number[]): Run[] => [
  { scen: "B1", values: b },
  { scen: "A1B", values: g },
  { scen: "A2", values: o },
];
const many = (b: number[][], g: number[][], o: number[][]): Run[] => [
  ...b.map((v) => ({ scen: "B1" as Scen, values: v })),
  ...g.map((v) => ({ scen: "A1B" as Scen, values: v })),
  ...o.map((v) => ({ scen: "A2" as Scen, values: v })),
];

const PANELS: { title: string; runs: Run[] }[] = [
  { title: "bccr_bcm2_0", runs: one(BCCR_B1, BCCR_A1B, BCCR_A2) },
  { title: "cccma_cgcm3_1", runs: many(CCCMA_B1, CCCMA_A1B, CCCMA_A2) },
  { title: "cnrm_cm3", runs: one(CNRM_B1, CNRM_A1B, CNRM_A2) },
  { title: "csiro_mk3_0", runs: one(CSIRO_B1, CSIRO_A1B, CSIRO_A2) },
  { title: "gfdl_cm2_0", runs: one(GFDL0_B1, GFDL0_A1B, GFDL0_A2) },
  { title: "gfdl_cm2_1", runs: one(GFDL1_B1, GFDL1_A1B, GFDL1_A2) },
  { title: "giss_model_e_r", runs: one(GISS_B1, GISS_A1B, GISS_A2) },
  { title: "inmcm3_0", runs: one(INM_B1, INM_A1B, INM_A2) },
  { title: "ipsl_cm4", runs: one(IPSL_B1, IPSL_A1B, IPSL_A2) },
  { title: "miroc3_2_medres", runs: many(MIROC_B1, MIROC_A1B, MIROC_A2) },
  { title: "miub_echo_g", runs: many(MIUB_B1, MIUB_A1B, MIUB_A2) },
  { title: "mpi_echam5", runs: many(MPI_B1, MPI_A1B, MPI_A2) },
  { title: "mri_cgcm2_3_2a", runs: many(MRI_B1, MRI_A1B, MRI_A2) },
  { title: "ncar_ccsm3_0", runs: many(CCSM_B1, CCSM_A1B, CCSM_A2) },
  { title: "ukmo_hadcm3", runs: one(UKMO_B1, UKMO_A1B, UKMO_A2) },
  {
    title: "ncar_pcm1",
    runs: [...many(PCM_B1, PCM_A1B, PCM_A2), ...PCM_CTL.map((v) => ({ scen: "CTL" as Scen, values: v }))],
  },
];

// ---------- styles ----------
const COLORS: Record<Scen, string> = { B1: "#6666ff", A1B: "#33cc33", A2: "#ff6633", CTL: "#000000" };
const ORDER: Record<Scen, number> = { CTL: 0, A2: 1, A1B: 2, B1: 3 };
const FONT = '"Liberation Sans", Arial, Helvetica, sans-serif';
const COL_LEFT = [90, 298, 506, 713];
const ROW_TOP = [39, 301, 564, 826];
const PW = 194;
const PH = 207;

const decorPlugin = {
  id: "decor",
  afterDraw(chart: any, _args: any, opts: any) {
    const { ctx, chartArea: a } = chart;
    ctx.save();
    ctx.lineWidth = 3;
    ctx.strokeStyle = "#000";
    ctx.strokeRect(a.left, a.top, a.right - a.left, a.bottom - a.top);
    ctx.fillStyle = "#000";
    ctx.textAlign = "center";
    ctx.textBaseline = "alphabetic";
    ctx.font = `bold 22px ${FONT}`;
    ctx.fillText(opts.title, (a.left + a.right) / 2, a.top - 12);
    if (opts.ylabel) {
      ctx.save();
      ctx.translate(a.left - 67, (a.top + a.bottom) / 2);
      ctx.rotate(-Math.PI / 2);
      ctx.textBaseline = "middle";
      ctx.font = `26px ${FONT}`;
      ctx.fillText(opts.ylabel, 0, 0);
      ctx.restore();
    }
    if (opts.xlabel) {
      ctx.font = `26px ${FONT}`;
      ctx.fillText(opts.xlabel, (a.left + a.right) / 2, a.bottom + 68);
    }
    if (opts.legend) {
      ctx.textAlign = "left";
      ctx.font = `bold 26px ${FONT}`;
      const offs = [17, 71, 145];
      const cols = [COLORS.B1, COLORS.A1B, COLORS.A2];
      LEGEND_LABELS.forEach((t, i) => {
        ctx.fillStyle = cols[i];
        ctx.fillText(t, a.left + offs[i], a.bottom - 16);
      });
    }
    ctx.restore();
  },
};

function Panel({ idx }: { idx: number }) {
  const ref = useRef<HTMLCanvasElement | null>(null);
  const row = Math.floor(idx / 4);
  const col = idx % 4;
  const p = PANELS[idx];
  const padL = col === 0 ? 100 : 12;
  const padR = 12;
  const padT = 45;
  const padB = row === 3 ? 80 : 20;
  const w = PW + padL + padR;
  const h = PH + padT + padB;

  useEffect(() => {
    const canvas = ref.current;
    if (!canvas) return;
    const xTicks = col === 0 || row >= 2 ? X_TICKS_LABELED : X_TICKS_INNER;
    const line = (v: number) => [
      { x: X_MIN, y: v },
      { x: X_MAX, y: v },
    ];
    const datasets: any[] = [
      {
        data: line(REF_HIGH),
        fill: { value: REF_LOW },
        backgroundColor: "#dedede",
        borderColor: "rgba(0,0,0,0)",
        borderWidth: 0,
        pointRadius: 0,
        order: 100,
      },
      ...REF_LINES.map((v) => ({
        data: line(v),
        borderColor: "#555555",
        borderWidth: 1.5,
        pointRadius: 0,
        fill: false,
        order: 50,
      })),
      ...p.runs.map((r) => ({
        data: r.values.map((v, i) => ({ x: YEARS[i], y: v })),
        borderColor: COLORS[r.scen],
        borderWidth: r.scen === "CTL" ? 3 : 2,
        pointRadius: 0,
        fill: false,
        tension: 0,
        order: ORDER[r.scen],
      })),
    ];
    const tickFont = { family: FONT, size: 22 };
    const gridOpts = { drawOnChartArea: false, drawTicks: true, tickLength: 5, color: "#000", lineWidth: 1.5 };
    const xScale = (position: string, size: number, labels: boolean) => ({
      type: "linear",
      position,
      min: X_MIN,
      max: X_MAX,
      afterBuildTicks: (s: any) => {
        s.ticks = xTicks.map((v) => ({ value: v }));
      },
      afterFit: (s: any) => {
        s.height = size;
      },
      grid: gridOpts,
      border: { display: false },
      ticks: {
        display: labels,
        font: tickFont,
        color: "#000",
        padding: 8,
        maxRotation: 0,
        autoSkip: false,
        callback: (v: any) => String(v),
      },
    });
    const yScale = (position: string, size: number, labels: boolean) => ({
      type: "linear",
      position,
      min: Y_MIN,
      max: Y_MAX,
      afterBuildTicks: (s: any) => {
        s.ticks = Y_TICKS.map((v) => ({ value: v }));
      },
      afterFit: (s: any) => {
        s.width = size;
      },
      grid: gridOpts,
      border: { display: false },
      ticks: {
        display: labels,
        font: tickFont,
        color: "#000",
        padding: 11,
        autoSkip: false,
        callback: (v: any) => String(v),
      },
    });
    const chart = new Chart(canvas, {
      type: "line",
      data: { datasets },
      options: {
        animation: false,
        responsive: false,
        maintainAspectRatio: false,
        devicePixelRatio: 1,
        events: [],
        layout: { padding: 0 },
        scales: {
          x: xScale("bottom", padB, row === 3),
          x2: xScale("top", padT, false),
          y: yScale("left", padL, col === 0),
          y2: yScale("right", padR, false),
        } as any,
        plugins: {
          legend: { display: false },
          tooltip: { enabled: false },
          title: { display: false },
          decor: {
            title: p.title,
            ylabel: col === 0 ? "BCM" : "",
            xlabel: row === 3 ? "Year" : "",
            legend: idx === 15,
          },
        } as any,
      },
      plugins: [decorPlugin],
    });
    return () => chart.destroy();
  }, [idx]);

  return (
    <canvas
      ref={ref}
      width={w}
      height={h}
      style={{
        position: "absolute",
        left: COL_LEFT[col] - padL,
        top: ROW_TOP[row] - padT,
        width: w,
        height: h,
      }}
    />
  );
}

export default function App() {
  return (
    <div
      style={{
        position: "absolute",
        left: 0,
        top: 0,
        width: 899,
        height: 1107,
        overflow: "hidden",
        background: "#fff",
      }}
    >
      {PANELS.map((_, i) => (
        <Panel key={i} idx={i} />
      ))}
    </div>
  );
}
